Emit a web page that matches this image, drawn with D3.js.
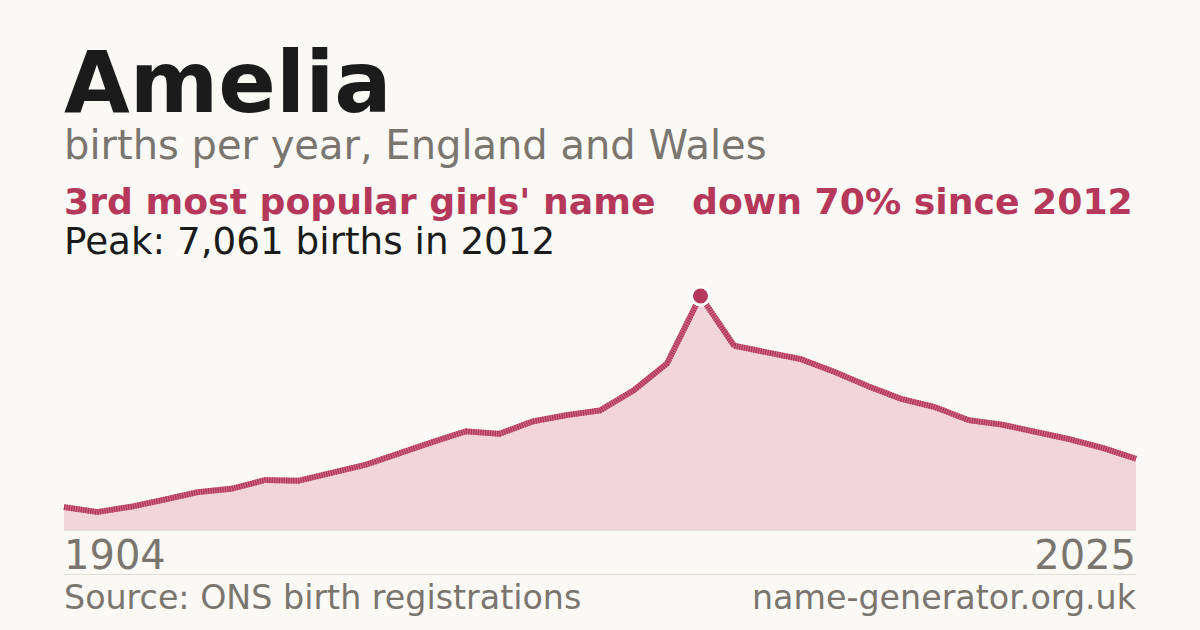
<!DOCTYPE html>
<html>
<head>
<meta charset="utf-8">
<script src="https://cdn.jsdelivr.net/npm/d3@7"></script>
<style>
  html, body { margin: 0; padding: 0; background: #faf9f5; }
  svg { display: block; font-family: "DejaVu Sans", sans-serif; }
</style>
</head>
<body>
<div id="chart"></div>
<script>
const FRAME_WIDTH = 1200;
const FRAME_HEIGHT = 630;
const MARGINS = {left: 64, right: 64, top: 296, bottom: 100};
const PLOT_BOTTOM = FRAME_HEIGHT - MARGINS.bottom;

// data (one point per plotted step)
const YEARS = [1904, 1914, 1924, 1934, 1944, 1954, 1964, 1974, 1984, 1994,
               2003, 2004, 2005, 2006, 2007, 2008, 2009, 2010, 2011, 2012,
               2013, 2014, 2015, 2016, 2017, 2018, 2019, 2020, 2021, 2022,
               2023, 2024, 2025];
const BIRTHS = [693, 543, 702, 919, 1145, 1245, 1507, 1486, 1727, 1968,
                2312, 2652, 2978, 2902, 3279, 3466, 3608, 4211, 5024, 7061,
                5561, 5356, 5154, 4771, 4340, 3954, 3707, 3315, 3180, 2963,
                2743, 2478, 2150];
const END_LABELS = ["1904", "2025"];

const NAME = "Amelia";
const SUBTITLE = "births per year, England and Wales";
const RANK_TEXT = "3rd most popular girls' name";
const CHANGE_TEXT = "down 70% since 2012";
const PEAK_TEXT = "Peak: 7,061 births in 2012";
const SOURCE_TEXT = "Source: ONS birth registrations";
const SITE_TEXT = "name-generator.org.uk";

const RED = "#b5375a";
const GREY = "#7a756e";

const data = YEARS.map((y, i) => ({year: y, value: BIRTHS[i]}));

const SVG = d3.select("#chart")
  .append("svg")
    .attr("width", FRAME_WIDTH)
    .attr("height", FRAME_HEIGHT);

SVG.append("rect")
  .attr("width", FRAME_WIDTH)
  .attr("height", FRAME_HEIGHT)
  .attr("fill", "#faf9f5");

// scales: x is one step per data point, y from zero to the peak
const X_SCALE = d3.scalePoint()
  .domain(YEARS)
  .range([MARGINS.left, FRAME_WIDTH - MARGINS.right]);

const Y_SCALE = d3.scaleLinear()
  .domain([0, d3.max(BIRTHS)])
  .range([PLOT_BOTTOM, MARGINS.top]);

// header text
SVG.append("text")
  .attr("x", 64).attr("y", 112)
  .attr("font-size", 85).attr("font-weight", "bold")
  .attr("fill", "#1b1b1b")
  .text(NAME);

SVG.append("text")
  .attr("x", 64).attr("y", 159)
  .attr("font-size", 40)
  .attr("fill", GREY)
  .text(SUBTITLE);

SVG.append("text")
  .attr("x", 64).attr("y", 214)
  .attr("font-size", 36.2).attr("font-weight", "bold")
  .attr("fill", RED)
  .text(RANK_TEXT);

SVG.append("text")
  .attr("x", 692).attr("y", 214)
  .attr("font-size", 36.2).attr("font-weight", "bold")
  .attr("fill", RED)
  .text(CHANGE_TEXT);

SVG.append("text")
  .attr("x", 64).attr("y", 254)
  .attr("font-size", 37.3)
  .attr("fill", "#1b1b1b")
  .text(PEAK_TEXT);

// area + line
const area = d3.area()
  .x(d => X_SCALE(d.year))
  .y0(PLOT_BOTTOM)
  .y1(d => Y_SCALE(d.value));

const line = d3.line()
  .x(d => X_SCALE(d.year))
  .y(d => Y_SCALE(d.value));

SVG.append("path")
  .datum(data)
  .attr("d", area)
  .attr("fill", "#f1d5db");

SVG.append("line")
  .attr("x1", MARGINS.left).attr("x2", FRAME_WIDTH - MARGINS.right)
  .attr("y1", PLOT_BOTTOM + 0.5).attr("y2", PLOT_BOTTOM + 0.5)
  .attr("stroke", "#e2ded7").attr("stroke-width", 1);

// light under-stroke, then a dashed darker one on top for the striped look
SVG.append("path")
  .datum(data)
  .attr("d", line)
  .attr("fill", "none")
  .attr("stroke", "#cd6d88")
  .attr("stroke-width", 5.8)
  .attr("stroke-linejoin", "round");

SVG.append("path")
  .datum(data)
  .attr("d", line)
  .attr("fill", "none")
  .attr("stroke", RED)
  .attr("stroke-width", 5.8)
  .attr("stroke-dasharray", "1.4 1")
  .attr("stroke-linejoin", "round");

// peak marker
const peak = data.reduce((a, b) => (b.value > a.value ? b : a));
SVG.append("circle")
  .attr("cx", X_SCALE(peak.year))
  .attr("cy", Y_SCALE(peak.value))
  .attr("r", 9)
  .attr("fill", RED)
  .attr("stroke", "#ffffff")
  .attr("stroke-width", 3);

// end year labels
SVG.append("text")
  .attr("x", MARGINS.left).attr("y", 569)
  .attr("font-size", 40)
  .attr("fill", GREY)
  .text(END_LABELS[0]);

SVG.append("text")
  .attr("x", FRAME_WIDTH - MARGINS.right).attr("y", 569)
  .attr("text-anchor", "end")
  .attr("font-size", 40)
  .attr("fill", GREY)
  .text(END_LABELS[1]);

// footer
SVG.append("line")
  .attr("x1", MARGINS.left).attr("x2", FRAME_WIDTH - MARGINS.right)
  .attr("y1", 574.5).attr("y2", 574.5)
  .attr("stroke", "#e2ded7").attr("stroke-width", 1);

SVG.append("text")
  .attr("x", 64).attr("y", 609)
  .attr("font-size", 33.3)
  .attr("fill", GREY)
  .text(SOURCE_TEXT);

SVG.append("text")
  .attr("x", FRAME_WIDTH - MARGINS.right).attr("y", 609)
  .attr("text-anchor", "end")
  .attr("font-size", 33.3)
  .attr("fill", GREY)
  .text(SITE_TEXT);
</script>
</body>
</html>
